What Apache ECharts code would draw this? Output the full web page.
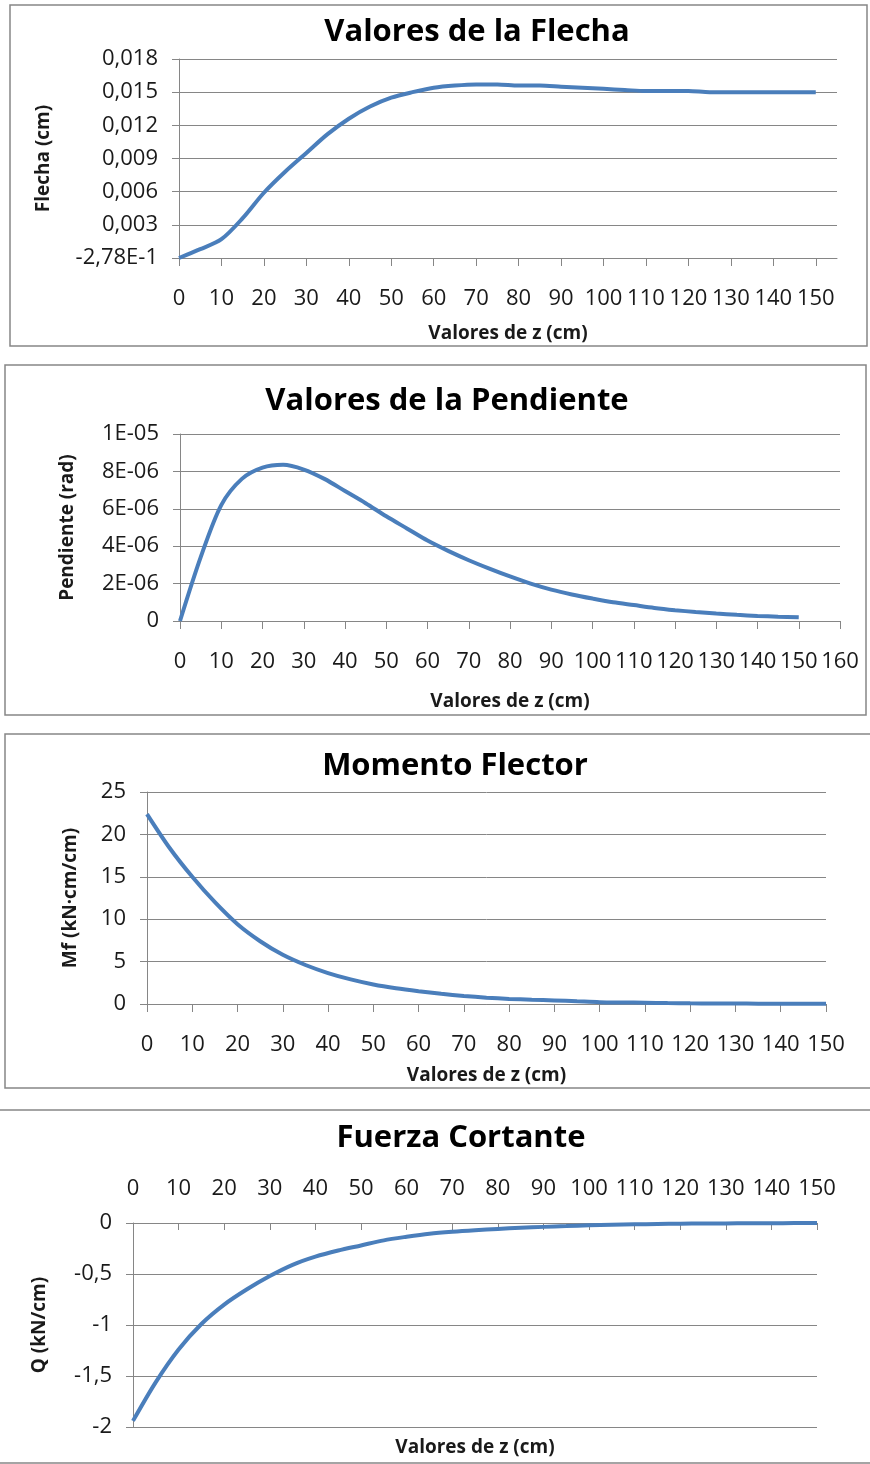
<!DOCTYPE html>
<html>
<head>
<meta charset="utf-8">
<script src="https://cdn.jsdelivr.net/npm/echarts@6/dist/echarts.min.js"></script>
<style>
html,body{margin:0;padding:0;background:#fff;}
#chart{width:870px;height:1464px;}
</style>
</head>
<body>
<div id="chart"></div>
<script>
// ---- Data ----
const zValues = [0,5,10,15,20,25,30,35,40,45,50,55,60,65,70,75,80,85,90,95,100,105,110,115,120,125,130,135,140,145,150];

const flecha = [0,0.0008,0.0017,0.0036,0.0059,0.0078,0.0095,0.0112,0.0126,0.0137,0.0145,0.0150,0.0154,0.0156,0.0157,0.0157,0.0156,0.0156,0.0155,0.0154,0.0153,0.0152,0.0151,0.0151,0.0151,0.0150,0.0150,0.0150,0.0150,0.0150,0.0150];

const pendiente = [0,3.4e-6,6.2e-6,7.6e-6,8.2e-6,8.35e-6,8.1e-6,7.6e-6,6.95e-6,6.3e-6,5.6e-6,4.95e-6,4.3e-6,3.75e-6,3.25e-6,2.8e-6,2.38e-6,2.0e-6,1.68e-6,1.42e-6,1.2e-6,1.0e-6,0.85e-6,0.7e-6,0.58e-6,0.48e-6,0.4e-6,0.33e-6,0.27e-6,0.23e-6,0.2e-6];

const momento = [22.4,18.4,15.0,12.0,9.4,7.4,5.8,4.6,3.65,2.9,2.3,1.85,1.5,1.2,0.95,0.75,0.6,0.5,0.42,0.32,0.22,0.18,0.15,0.11,0.08,0.06,0.05,0.04,0.03,0.02,0.02];

const cortante = [-1.94,-1.56,-1.24,-0.99,-0.80,-0.65,-0.52,-0.41,-0.33,-0.27,-0.22,-0.17,-0.135,-0.105,-0.085,-0.07,-0.058,-0.047,-0.038,-0.03,-0.022,-0.017,-0.013,-0.01,-0.007,-0.005,-0.004,-0.003,-0.002,-0.001,-0.001];

const titles = ['Valores de la Flecha','Valores de la Pendiente','Momento Flector','Fuerza Cortante'];
const yNames = ['Flecha (cm)','Pendiente (rad)','Mf (kN·cm/cm)','Q (kN/cm)'];
const xName = 'Valores de z (cm)';
const xTicks150 = [0,10,20,30,40,50,60,70,80,90,100,110,120,130,140,150];

// ---- Styling ----
const GRAY = '#868686';
const LINE = '#4A7EBB';
const FONT = '"Open Sans", "Noto Sans", sans-serif';
const TXT = '#1a1a1a';
const lblSize = 22;

function pairs(ys){ return zValues.map((z,i)=>[z, ys[i]]); }

function xAx(grid, extra){
  return Object.assign({
    type:'value', gridIndex:grid, min:0, interval:10,
    axisLine:{show:true, onZero:false, lineStyle:{color:GRAY,width:1}},
    axisTick:{show:true, length:8, lineStyle:{color:GRAY}},
    axisLabel:{color:TXT, fontFamily:FONT, fontSize:lblSize, margin:30},
    splitLine:{show:false},
    name:xName, nameLocation:'middle',
    nameTextStyle:{color:TXT, fontFamily:FONT, fontSize:19, fontWeight:'bold'}
  }, extra);
}
function yAx(grid, extra){
  return Object.assign({
    type:'value', gridIndex:grid,
    axisLine:{show:true, onZero:false, lineStyle:{color:GRAY,width:1}},
    axisTick:{show:true, length:7, lineStyle:{color:GRAY}},
    axisLabel:{color:TXT, fontFamily:FONT, fontSize:lblSize, margin:21},
    splitLine:{show:true, lineStyle:{color:GRAY,width:1}},
    nameLocation:'middle',
    nameTextStyle:{color:TXT, fontFamily:FONT, fontSize:19, fontWeight:'bold'}
  }, extra);
}
function comma(s){ return String(s).replace('.', ','); }
function sci(v){
  if (Math.abs(v) < 1e-12) return '0';
  const e = Math.floor(Math.log10(v) + 1e-9);
  const m = Math.round(v / Math.pow(10, e));
  return m + 'E-' + String(-e).padStart(2,'0');
}

const chart = echarts.init(document.getElementById('chart'), null, {renderer:'canvas'});

function titleText(text, x, y){
  return {type:'text', x:x, y:y, style:{text:text, fill:'#000', font:'bold 31px "Open Sans", sans-serif', align:'center', verticalAlign:'middle'}, silent:true};
}

chart.setOption({
  backgroundColor:'#fff',
  animation:false,
  graphic:[
    {type:'rect', shape:{x:10, y:5, width:857, height:341}, style:{fill:'none', stroke:GRAY, lineWidth:1.5}, silent:true},
    {type:'rect', shape:{x:5, y:365, width:861, height:350}, style:{fill:'none', stroke:GRAY, lineWidth:1.5}, silent:true},
    {type:'rect', shape:{x:5, y:734, width:880, height:354}, style:{fill:'none', stroke:GRAY, lineWidth:1.5}, silent:true},
    {type:'rect', shape:{x:-10, y:1110, width:890, height:353}, style:{fill:'none', stroke:GRAY, lineWidth:1.5}, silent:true},
    titleText(titles[0], 477, 32),
    titleText(titles[1], 447, 401),
    titleText(titles[2], 455, 766),
    titleText(titles[3], 461, 1138)
  ],
  grid:[
    {left:179, top:59, width:658, height:199},
    {left:180, top:434, width:660, height:187},
    {left:147, top:792, width:679, height:212},
    {left:133, top:1223, width:684, height:204}
  ],
  xAxis:[
    xAx(0, {max:155, nameGap:66,
      axisTick:{show:true, length:8, lineStyle:{color:GRAY}, customValues:xTicks150},
      axisLabel:{color:TXT, fontFamily:FONT, fontSize:lblSize, margin:30, customValues:xTicks150}}),
    xAx(1, {max:160, nameGap:71}),
    xAx(2, {max:150, nameGap:62}),
    xAx(3, {max:150, position:'top', name:'',
      axisTick:{show:true, inside:true, length:7, lineStyle:{color:GRAY}},
      axisLabel:{color:TXT, fontFamily:FONT, fontSize:lblSize, margin:23}}),
    xAx(3, {max:150, position:'bottom', nameGap:11,
      axisLine:{show:false}, axisTick:{show:false}, axisLabel:{show:false}})
  ],
  yAxis:[
    yAx(0, {min:0, max:0.018, interval:0.003, name:yNames[0], nameGap:126,
      axisLabel:{color:TXT, fontFamily:FONT, fontSize:lblSize, margin:21,
        formatter:v => Math.abs(v) < 1e-12 ? '-2,78E-1' : comma((Math.round(v*1000)/1000).toFixed(3))}}),
    yAx(1, {min:0, max:1e-5, interval:2e-6, name:yNames[1], nameGap:103,
      axisLabel:{color:TXT, fontFamily:FONT, fontSize:lblSize, margin:21, formatter:sci}}),
    yAx(2, {min:0, max:25, interval:5, name:yNames[2], nameGap:67}),
    yAx(3, {min:-2, max:0, interval:0.5, name:yNames[3], nameGap:84,
      axisLabel:{color:TXT, fontFamily:FONT, fontSize:lblSize, margin:21,
        formatter:v => comma(Math.round(v*10)/10)}})
  ],
  series:[
    {type:'line', xAxisIndex:0, yAxisIndex:0, data:pairs(flecha)},
    {type:'line', xAxisIndex:1, yAxisIndex:1, data:pairs(pendiente)},
    {type:'line', xAxisIndex:2, yAxisIndex:2, data:pairs(momento)},
    {type:'line', xAxisIndex:3, yAxisIndex:3, data:pairs(cortante)}
  ].map(s => Object.assign(s, {
    smooth:0.3, showSymbol:false, symbol:'none',
    lineStyle:{color:LINE, width:4}, itemStyle:{color:LINE}, silent:true
  }))
});
</script>
</body>
</html>
